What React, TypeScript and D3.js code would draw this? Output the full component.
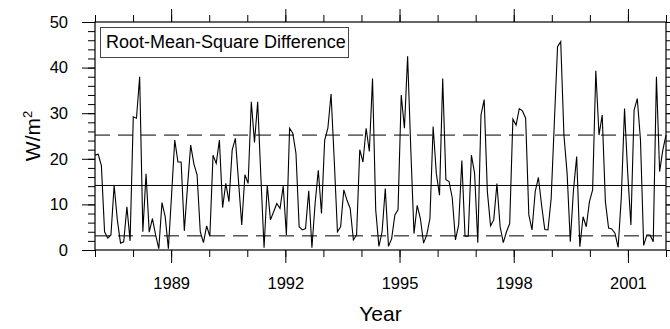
import React, { useRef, useEffect } from 'react';
import * as d3 from 'd3';

// monthly RMS difference, Jan 1987 onwards (W/m2)
const rmsValues: number[] = [
  20.8, 21.0, 18.5, 4.0, 2.6, 3.3, 14.2, 6.6, 1.5, 1.8, 9.5, 2.0,
  29.2, 28.9, 38.0, 4.0, 16.7, 3.9, 6.9, 3.3, 0.3, 10.4, 7.3, 0.3,
  12.0, 24.1, 19.3, 19.3, 4.2, 13.9, 23.0, 18.9, 16.5, 4.0, 1.6, 5.3,
  3.0, 20.8, 19.0, 24.1, 9.3, 14.6, 10.6, 21.9, 24.5, 15.0, 5.5, 16.5,
  14.6, 32.5, 23.6, 32.5, 16.0, 0.5, 14.2, 6.6, 8.4, 10.2, 9.1, 14.0,
  3.3, 26.7, 25.6, 21.2, 5.1, 4.4, 4.7, 13.0, 0.5, 10.2, 17.5, 8.0,
  24.1, 26.7, 34.2, 19.7, 4.0, 5.1, 13.2, 10.9, 9.1, 2.2, 3.3, 22.0,
  19.3, 26.7, 21.6, 37.6, 8.8, 0.8, 4.0, 13.5, 0.8, 2.5, 7.7, 8.8,
  34.0, 26.7, 42.5, 22.0, 3.6, 9.8, 6.9, 1.5, 3.3, 6.9, 27.1, 16.8,
  12.0, 37.6, 15.4, 15.0, 11.4, 2.2, 5.5, 19.6, 3.0, 3.0, 20.8, 16.8,
  1.6, 29.6, 33.0, 12.8, 5.3, 6.6, 14.6, 5.1, 1.6, 4.0, 5.8, 28.7,
  27.4, 31.0, 30.5, 28.9, 7.7, 4.4, 12.8, 15.9, 9.8, 4.5, 4.4, 11.3,
  28.0, 44.6, 45.7, 25.2, 16.8, 1.8, 13.2, 20.5, 0.7, 7.3, 5.1, 10.6,
  13.2, 39.3, 25.2, 29.6, 10.6, 4.8, 4.6, 3.7, 0.6, 11.7, 31.0, 16.8,
  5.5, 30.7, 33.2, 24.1, 1.0, 3.3, 3.3, 1.8, 38.0, 17.2, 21.9, 25.2,
];

const yearMajor = [1989, 1992, 1995, 1998, 2001];
const yearMinor = d3.range(1987, 2003);
const valueMajor = [0, 10, 20, 30, 40, 50];
const valueMinor = d3.range(0, 51, 2);

const meanValue = 14.15;
const stdValue = 11.05;
const legendText = 'Root-Mean-Square Difference';

const W = 670;
const H = 329;
const margin = { top: 22, right: 4, bottom: 79, left: 95 };
const font = 'Liberation Sans, Arial, Helvetica, sans-serif';

export default function App() {
  const svgRef = useRef<SVGSVGElement | null>(null);

  useEffect(() => {
    if (!svgRef.current) return;
    const svg = d3.select(svgRef.current);
    svg.selectAll('*').remove();

    const x0 = margin.left;
    const x1 = W - margin.right;
    const yb = H - margin.bottom;
    const yt = margin.top;

    const x = d3.scaleLinear().domain([1987, 2002]).range([x0, x1]);
    // series spans the whole axis
    const xi = d3.scaleLinear().domain([0, rmsValues.length - 1]).range([x0, x1]);
    const y = d3.scaleLinear().domain([0, 50]).range([yb, yt]);

    const styleAxis = (g: d3.Selection<SVGGElement, unknown, null, undefined>) => {
      g.select('.domain').remove();
      g.selectAll('line').attr('stroke', '#000').attr('stroke-width', 1);
      g.selectAll('text').attr('font-family', font).attr('font-size', 16.5).attr('fill', '#000');
    };

    // minor ticks
    svg.append('g').attr('transform', `translate(0,${yb})`)
      .call(d3.axisBottom(x).tickValues(yearMinor).tickSize(7).tickFormat(() => ''))
      .call(styleAxis);
    svg.append('g').attr('transform', `translate(0,${yt})`)
      .call(d3.axisTop(x).tickValues(yearMinor).tickSize(7).tickFormat(() => ''))
      .call(styleAxis);
    svg.append('g').attr('transform', `translate(${x0},0)`)
      .call(d3.axisLeft(y).tickValues(valueMinor).tickSize(7).tickFormat(() => ''))
      .call(styleAxis);
    svg.append('g').attr('transform', `translate(${x1},0)`)
      .call(d3.axisRight(y).tickValues(valueMinor).tickSize(7).tickFormat(() => ''))
      .call(styleAxis);

    // major ticks
    svg.append('g').attr('transform', `translate(0,${yb})`)
      .call(d3.axisBottom(x).tickValues(yearMajor).tickSize(13).tickPadding(14).tickFormat(d3.format('d')))
      .call(styleAxis);
    svg.append('g').attr('transform', `translate(0,${yt})`)
      .call(d3.axisTop(x).tickValues(yearMajor).tickSize(13).tickFormat(() => ''))
      .call(styleAxis);
    svg.append('g').attr('transform', `translate(${x0},0)`)
      .call(d3.axisLeft(y).tickValues(valueMajor).tickSize(13).tickPadding(14).tickFormat(d3.format('d')))
      .call(styleAxis);
    svg.append('g').attr('transform', `translate(${x1},0)`)
      .call(d3.axisRight(y).tickValues(valueMajor).tickSize(13).tickFormat(() => ''))
      .call(styleAxis);

    // mean and +/- std lines
    svg.append('line')
      .attr('x1', x0).attr('x2', x1)
      .attr('y1', y(meanValue)).attr('y2', y(meanValue))
      .attr('stroke', '#000').attr('stroke-width', 1);
    [meanValue - stdValue, meanValue + stdValue].forEach(v => {
      svg.append('line')
        .attr('x1', x0).attr('x2', x1)
        .attr('y1', y(v)).attr('y2', y(v))
        .attr('stroke', '#000').attr('stroke-width', 1)
        .attr('stroke-dasharray', '15 8');
    });

    // series
    const line = d3.line<number>().x((_, i) => xi(i)).y(d => y(d));
    svg.append('path')
      .datum(rmsValues)
      .attr('d', line)
      .attr('fill', 'none')
      .attr('stroke', '#000')
      .attr('stroke-width', 1.1)
      .attr('stroke-linejoin', 'miter');

    // frame
    svg.append('rect')
      .attr('x', x0).attr('y', yt)
      .attr('width', x1 - x0).attr('height', yb - yt)
      .attr('fill', 'none').attr('stroke', '#000').attr('stroke-width', 1.2);

    // legend box
    svg.append('rect')
      .attr('x', 100.5).attr('y', 27.5)
      .attr('width', 248).attr('height', 30)
      .attr('fill', '#fff').attr('stroke', '#444').attr('stroke-width', 1);
    svg.append('text')
      .attr('x', 106).attr('y', 48)
      .attr('font-family', font).attr('font-size', 18)
      .attr('fill', '#000')
      .text(legendText);

    // axis titles
    svg.append('text')
      .attr('x', (x0 + x1) / 2).attr('y', 321)
      .attr('text-anchor', 'middle')
      .attr('font-family', font).attr('font-size', 21)
      .text('Year');

    const yl = svg.append('text')
      .attr('transform', `translate(40,${(yt + yb) / 2}) rotate(-90)`)
      .attr('text-anchor', 'middle')
      .attr('font-family', font).attr('font-size', 21);
    yl.append('tspan').text('W/m');
    yl.append('tspan').attr('font-size', 13).attr('dy', -8).text('2');
  }, []);

  return (
    <div style={{ position: 'fixed', left: 0, top: 0 }}>
      <svg ref={svgRef} width={W} height={H} style={{ display: 'block', background: '#fff' }}></svg>
    </div>
  );
}
